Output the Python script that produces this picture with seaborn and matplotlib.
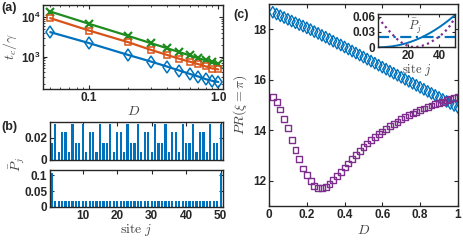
import numpy as np
import pandas as pd
import matplotlib
matplotlib.use('Agg')
import matplotlib.pyplot as plt
import seaborn as sns
from matplotlib.ticker import FixedLocator, NullFormatter

# (a) decay time vs D (log-log)
D_a = [0.05, 0.1, 0.2, 0.3, 0.4, 0.5, 0.6, 0.7, 0.8, 0.9, 1.0]
tc_green = [13900, 6770, 3350, 2190, 1630, 1290, 1070, 910, 795, 705, 650]
tc_orange = [9440, 4570, 2320, 1480, 1100, 875, 740, 640, 560, 495, 470]
tc_blue = [4170, 2190, 1100, 747, 557, 440, 362, 310, 265, 240, 225]

# (b) site occupations
sites = list(range(1, 51))
P_top = [0.015, 0.032, 0.007, 0.025, 0.025, 0.007, 0.032, 0.015,
         0.015, 0.032, 0.007, 0.025, 0.025, 0.007, 0.032, 0.015,
         0.015, 0.032, 0.007, 0.025, 0.025, 0.007, 0.032, 0.015,
         0.015, 0.032, 0.007, 0.025, 0.025, 0.007, 0.032, 0.015,
         0.015, 0.032, 0.007, 0.025, 0.025, 0.007, 0.032, 0.015,
         0.015, 0.032, 0.007, 0.025, 0.025, 0.007, 0.032, 0.015,
         0.015, 0.032]
P_bot = [0.108] + [0.0185] * 48 + [0.108]

# (c) participation ratio vs D
D_c = [0.02, 0.04, 0.06, 0.08, 0.10, 0.12, 0.14, 0.16, 0.18, 0.20,
       0.22, 0.24, 0.26, 0.28, 0.30, 0.32, 0.34, 0.36, 0.38, 0.40,
       0.42, 0.44, 0.46, 0.48, 0.50, 0.52, 0.54, 0.56, 0.58, 0.60,
       0.62, 0.64, 0.66, 0.68, 0.70, 0.72, 0.74, 0.76, 0.78, 0.80,
       0.82, 0.84, 0.86, 0.88, 0.90, 0.92, 0.94, 0.96, 0.98, 1.00]
PR_blue = [18.68, 18.61, 18.54, 18.47, 18.40, 18.33, 18.26, 18.19, 18.13, 18.06,
           17.99, 17.91, 17.84, 17.76, 17.69, 17.61, 17.53, 17.45, 17.38, 17.30,
           17.22, 17.14, 17.06, 16.98, 16.90, 16.82, 16.74, 16.66, 16.58, 16.50,
           16.42, 16.34, 16.26, 16.18, 16.10, 16.02, 15.94, 15.86, 15.78, 15.70,
           15.62, 15.54, 15.46, 15.38, 15.30, 15.22, 15.14, 15.06, 14.98, 14.90]
PR_purple = [15.31, 15.12, 14.82, 14.46, 14.07, 13.62, 13.21, 12.84, 12.48, 12.22,
             11.99, 11.80, 11.71, 11.70, 11.73, 11.86, 12.02, 12.18, 12.35, 12.52,
             12.68, 12.84, 13.01, 13.17, 13.33, 13.47, 13.60, 13.72, 13.84, 13.95,
             14.05, 14.15, 14.25, 14.34, 14.43, 14.51, 14.59, 14.66, 14.73, 14.80,
             14.86, 14.92, 14.98, 15.03, 15.08, 15.13, 15.18, 15.22, 15.26, 15.30]

# inset profiles
site_in = [1, 4, 7, 10, 13, 16, 19, 22, 25, 28, 31, 34, 37, 40, 43, 46, 49, 50]
Pin_solid = [0.0, 0.0002, 0.0009, 0.002, 0.0035, 0.0055, 0.008, 0.011, 0.0145,
             0.0185, 0.023, 0.028, 0.0335, 0.0395, 0.046, 0.053, 0.0605, 0.063]
Pin_dash = [0.02] * 18
Pin_dot = [0.058, 0.046, 0.035, 0.025, 0.016, 0.009, 0.004, 0.001, 0.0005,
           0.002, 0.005, 0.009, 0.015, 0.021, 0.029, 0.039, 0.053, 0.058]

blue = '#0072BD'
orange = '#D95319'
green = '#1E8C1E'
purple = '#7E2F8E'
axc = '#262626'

sns.set_style('ticks')
plt.rcParams['font.family'] = ['Liberation Sans', 'DejaVu Sans']
plt.rcParams['font.weight'] = 'bold'
plt.rcParams['font.size'] = 8.5
plt.rcParams['mathtext.fontset'] = 'custom'
plt.rcParams['mathtext.rm'] = 'cmr10'
plt.rcParams['mathtext.it'] = 'cmmi10'
plt.rcParams['mathtext.bf'] = 'Liberation Sans:bold'
plt.rcParams['mathtext.fallback'] = 'cm'
plt.rcParams['axes.edgecolor'] = axc
plt.rcParams['axes.linewidth'] = 1.0
plt.rcParams['xtick.direction'] = 'in'
plt.rcParams['ytick.direction'] = 'in'
plt.rcParams['xtick.color'] = axc
plt.rcParams['ytick.color'] = axc
plt.rcParams['xtick.major.size'] = 3
plt.rcParams['ytick.major.size'] = 3
plt.rcParams['xtick.minor.size'] = 1.6
plt.rcParams['ytick.minor.size'] = 1.6
plt.rcParams['xtick.major.pad'] = 2
plt.rcParams['ytick.major.pad'] = 2
lblc = '#444444'

fig = plt.figure(figsize=(4.63, 2.45), dpi=100)

def boxed(ax):
    for s in ax.spines.values():
        s.set_visible(True)
        s.set_color(axc)
    ax.tick_params(which='both', top=True, right=True)

# ---- (a)
axa = fig.add_axes([0.093, 0.637, 0.389, 0.343])
dfa = pd.DataFrame({'D': D_a, 'g': tc_green, 'o': tc_orange, 'b': tc_blue})
sns.lineplot(data=dfa, x='D', y='g', ax=axa, color=green, marker='x', markersize=5.5,
             markeredgecolor=green, markeredgewidth=1.6, linewidth=1.6)
sns.lineplot(data=dfa, x='D', y='o', ax=axa, color=orange, marker='s', markersize=5,
             markerfacecolor='none', markeredgecolor=orange, markeredgewidth=1.1, linewidth=1.6)
sns.lineplot(data=dfa, x='D', y='b', ax=axa, color=blue, marker='d', markersize=6.5,
             markerfacecolor='none', markeredgecolor=blue, markeredgewidth=1.1, linewidth=1.6)
axa.set_xscale('log')
axa.set_yscale('log')
axa.set_xlim(0.044, 1.09)
axa.set_ylim(150, 20500)
axa.xaxis.set_major_locator(FixedLocator([0.1, 1.0]))
axa.set_xticklabels(['0.1', '1.0'])
axa.xaxis.set_minor_locator(FixedLocator([0.05, 0.06, 0.07, 0.08, 0.09, 0.2, 0.3, 0.4, 0.5, 0.6, 0.7, 0.8, 0.9]))
axa.xaxis.set_minor_formatter(NullFormatter())
axa.yaxis.set_major_locator(FixedLocator([1e3, 1e4]))
axa.set_yticklabels([r'$\mathbf{10^3}$', r'$\mathbf{10^4}$'])
axa.yaxis.set_minor_locator(FixedLocator([200, 300, 400, 500, 600, 700, 800, 900,
                                          2000, 3000, 4000, 5000, 6000, 7000, 8000, 9000, 20000]))
axa.yaxis.set_minor_formatter(NullFormatter())
boxed(axa)
axa.set_xlabel(r'$D$', fontsize=10, color=lblc, labelpad=0)
axa.set_ylabel(r'$t_c/\gamma$', fontsize=10, color=lblc, labelpad=1)

# ---- (b)
axb1 = fig.add_axes([0.108, 0.347, 0.373, 0.154])
axb2 = fig.add_axes([0.108, 0.156, 0.373, 0.150])
dfb = pd.DataFrame({'site': sites, 'top': P_top, 'bot': P_bot})
sns.barplot(data=dfb, x='site', y='top', ax=axb1, color=blue, native_scale=True,
            width=0.65, saturation=1, linewidth=0)
sns.barplot(data=dfb, x='site', y='bot', ax=axb2, color=blue, native_scale=True,
            width=0.65, saturation=1, linewidth=0)
for ax in (axb1, axb2):
    ax.set_xlim(0.5, 50.6)
    ax.set_xticks([10, 20, 30, 40, 50])
    ax.set_xlabel('')
    ax.set_ylabel('')
    boxed(ax)
axb1.set_ylim(0, 0.034)
axb1.set_yticks([0, 0.02])
axb1.set_yticklabels(['0', '0.02'])
axb1.set_xticklabels([])
axb2.set_ylim(0, 0.117)
axb2.set_yticks([0, 0.05, 0.1])
axb2.set_yticklabels(['0', '0.05', '0.1'])
axb2.set_xticklabels(['10', '20', '30', '40', '50'])
axb2.set_xlabel(r'$\mathrm{site}\ j$', fontsize=10, color=lblc, labelpad=0)
fig.text(0.038, 0.33, r'$\bar{P}_j$', rotation=90, fontsize=10, color=lblc,
         ha='center', va='center')

# ---- (c)
axc_ = fig.add_axes([0.581, 0.160, 0.408, 0.823])
dfc = pd.DataFrame({'D': D_c, 'b': PR_blue, 'p': PR_purple})
sns.scatterplot(data=dfc, x='D', y='b', ax=axc_, marker='d', s=34, facecolor='none',
                edgecolor=blue, linewidth=1.0)
sns.scatterplot(data=dfc, x='D', y='p', ax=axc_, marker='s', s=18, facecolor='none',
                edgecolor=purple, linewidth=1.0)
axc_.set_xlim(0, 1)
axc_.set_ylim(11, 19)
axc_.set_xticks([0, 0.2, 0.4, 0.6, 0.8, 1])
axc_.set_xticklabels(['0', '0.2', '0.4', '0.6', '0.8', '1'])
axc_.set_yticks([12, 14, 16, 18])
boxed(axc_)
axc_.set_xlabel(r'$D$', fontsize=10, color=lblc, labelpad=2)
axc_.set_ylabel(r'$PR(\xi=\pi)$', fontsize=10, color=lblc, labelpad=3)

# inset
axi = fig.add_axes([0.817, 0.807, 0.166, 0.136])
dfi = pd.DataFrame({'j': site_in, 's': Pin_solid, 'd': Pin_dash, 'o': Pin_dot})
sns.lineplot(data=dfi, x='j', y='s', ax=axi, color=blue, linewidth=1.4)
sns.lineplot(data=dfi, x='j', y='d', ax=axi, color=blue, linewidth=1.6, linestyle=(0, (5, 2, 1, 2)))
sns.lineplot(data=dfi, x='j', y='o', ax=axi, color=purple, linewidth=1.6, linestyle=(0, (1, 1.5)))
axi.set_xlim(1, 50)
axi.set_ylim(0, 0.065)
axi.set_xticks([20, 40])
axi.set_yticks([0, 0.03, 0.06])
axi.set_yticklabels(['0', '0.03', '0.06'])
axi.tick_params(labelsize=8.5, length=2)
boxed(axi)
axi.set_xlabel(r'$\mathrm{site}\ j$', fontsize=9, color=lblc, labelpad=0)
axi.set_ylabel('')
axi.text(0.48, 0.62, r'$\bar{P}_j$', transform=axi.transAxes, fontsize=9,
         color=lblc, ha='center', va='center')

# panel labels
fig.text(0.003, 0.955, '(a)', fontsize=9, fontweight='bold')
fig.text(0.003, 0.47, '(b)', fontsize=9, fontweight='bold')
fig.text(0.503, 0.925, '(c)', fontsize=9, fontweight='bold')

fig.savefig('out.png', dpi=100)
